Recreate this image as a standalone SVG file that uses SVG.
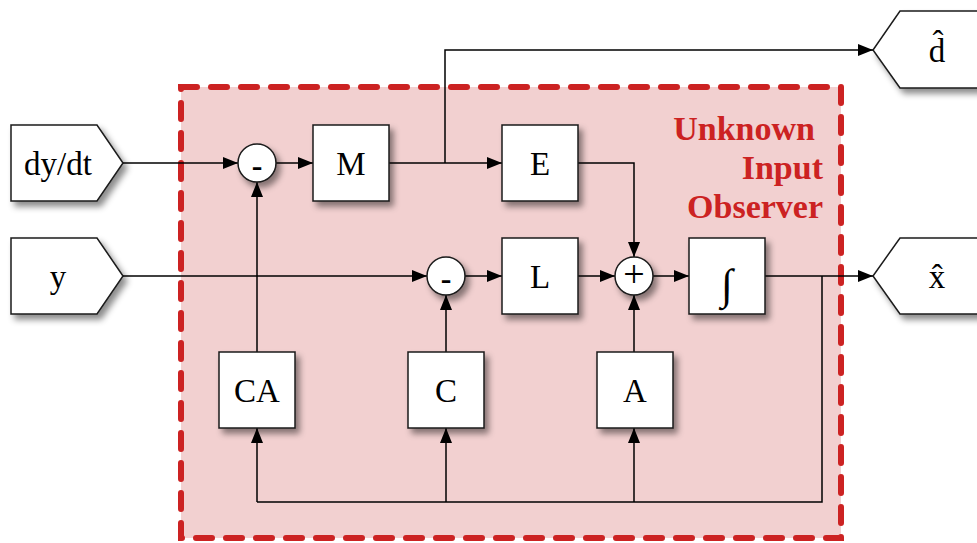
<svg xmlns="http://www.w3.org/2000/svg" width="977" height="543" viewBox="0 0 977 543">
  <style>
    .blk { fill: #ffffff; stroke: #1a1a1a; stroke-width: 1.5; filter: url(#shadow); }
    .lbl { font-family: "Liberation Serif", "Times New Roman", serif; font-size: 33px; fill: #000; text-anchor: middle; }
    .sgn { font-family: "Liberation Serif", "Times New Roman", serif; font-size: 32px; fill: #000; text-anchor: middle; }
    .neg { font-weight: bold; }
    .pls { font-size: 38px; }
    .integ { font-size: 43px; }
    .wire { fill: none; stroke: #000; stroke-width: 1.5; }
    .arr { marker-end: url(#head); }
    .title { font-family: "Liberation Serif", "Times New Roman", serif; font-size: 34px; font-weight: bold; fill: #cc2222; text-anchor: end; }
  </style>
  <defs>
    <filter id="shadow" x="-20%" y="-20%" width="150%" height="150%">
      <feDropShadow dx="4" dy="5" stdDeviation="3" flood-color="#000" flood-opacity="0.45"/>
    </filter>
    <marker id="head" markerUnits="userSpaceOnUse" markerWidth="16" markerHeight="12" refX="15" refY="6" orient="auto">
      <path d="M0,0 L15,6 L0,12 Z" fill="#000"/>
    </marker>
  </defs>

  <!-- observer region -->
  <g id="observer">
    <rect x="181" y="87" width="660" height="451" fill="#f2d0d0" stroke="#cc2222" stroke-width="6" stroke-dasharray="16 14" stroke-linecap="round"/>
    <text class="title" x="815" y="140">Unknown</text>
    <text class="title" x="823" y="179">Input</text>
    <text class="title" x="823" y="218">Observer</text>
  </g>

  <!-- connectors -->
  <g id="connectors">
    <path class="wire arr" d="M123,163 H238"/>
    <path class="wire arr" d="M276,163 H313"/>
    <path class="wire arr" d="M389,163 H502"/>
    <path class="wire arr" d="M445,163 V50 H873"/>
    <path class="wire arr" d="M578,163 H634 V257"/>
    <path class="wire arr" d="M123,276 H427"/>
    <path class="wire arr" d="M465,276 H502"/>
    <path class="wire arr" d="M578,276 H615"/>
    <path class="wire arr" d="M653,276 H689"/>
    <path class="wire arr" d="M765,276 H873"/>
    <path class="wire" d="M822,276 V502 H257"/>
    <path class="wire arr" d="M257,502 V428"/>
    <path class="wire arr" d="M446,502 V428"/>
    <path class="wire arr" d="M634,502 V428"/>
    <path class="wire arr" d="M257,352 V182"/>
    <path class="wire arr" d="M446,352 V295"/>
    <path class="wire arr" d="M634,352 V295"/>
  </g>

  <!-- inputs -->
  <g id="in-dydt">
    <path class="blk" d="M11,125 H97 L123,163 L97,201 H11 Z"/>
    <text class="lbl" x="58" y="175">dy/dt</text>
  </g>
  <g id="in-y">
    <path class="blk" d="M11,238 H97 L123,276 L97,314 H11 Z"/>
    <text class="lbl" x="58" y="288">y</text>
  </g>

  <!-- outputs -->
  <g id="out-d">
    <path class="blk" d="M985,11 H900 L873,50 L900,88 H985 Z"/>
    <text class="lbl" x="937" y="62">d&#770;</text>
  </g>
  <g id="out-x">
    <path class="blk" d="M985,238 H900 L873,276 L900,314 H985 Z"/>
    <text class="lbl" x="937" y="288">x&#770;</text>
  </g>

  <!-- summing junctions -->
  <g id="sum-1">
    <circle class="blk" cx="257" cy="163" r="19"/>
    <text class="sgn neg" x="257" y="176">-</text>
  </g>
  <g id="sum-2">
    <circle class="blk" cx="446" cy="276" r="19"/>
    <text class="sgn neg" x="446" y="289">-</text>
  </g>
  <g id="sum-3">
    <circle class="blk" cx="634" cy="276" r="19"/>
    <text class="sgn pls" x="634" y="287">+</text>
  </g>

  <!-- gain blocks -->
  <g id="blk-M">
    <rect class="blk" x="313" y="125" width="76" height="76"/>
    <text class="lbl" x="351" y="175">M</text>
  </g>
  <g id="blk-E">
    <rect class="blk" x="502" y="125" width="76" height="76"/>
    <text class="lbl" x="540" y="175">E</text>
  </g>
  <g id="blk-L">
    <rect class="blk" x="502" y="238" width="76" height="76"/>
    <text class="lbl" x="540" y="288">L</text>
  </g>
  <g id="blk-int">
    <rect class="blk" x="689" y="238" width="76" height="76"/>
    <text class="lbl integ" x="727" y="299">&#8747;</text>
  </g>
  <g id="blk-CA">
    <rect class="blk" x="219" y="352" width="76" height="76"/>
    <text class="lbl" x="257" y="402">CA</text>
  </g>
  <g id="blk-C">
    <rect class="blk" x="408" y="352" width="76" height="76"/>
    <text class="lbl" x="446" y="402">C</text>
  </g>
  <g id="blk-A">
    <rect class="blk" x="597" y="352" width="76" height="76"/>
    <text class="lbl" x="635" y="402">A</text>
  </g>
</svg>
